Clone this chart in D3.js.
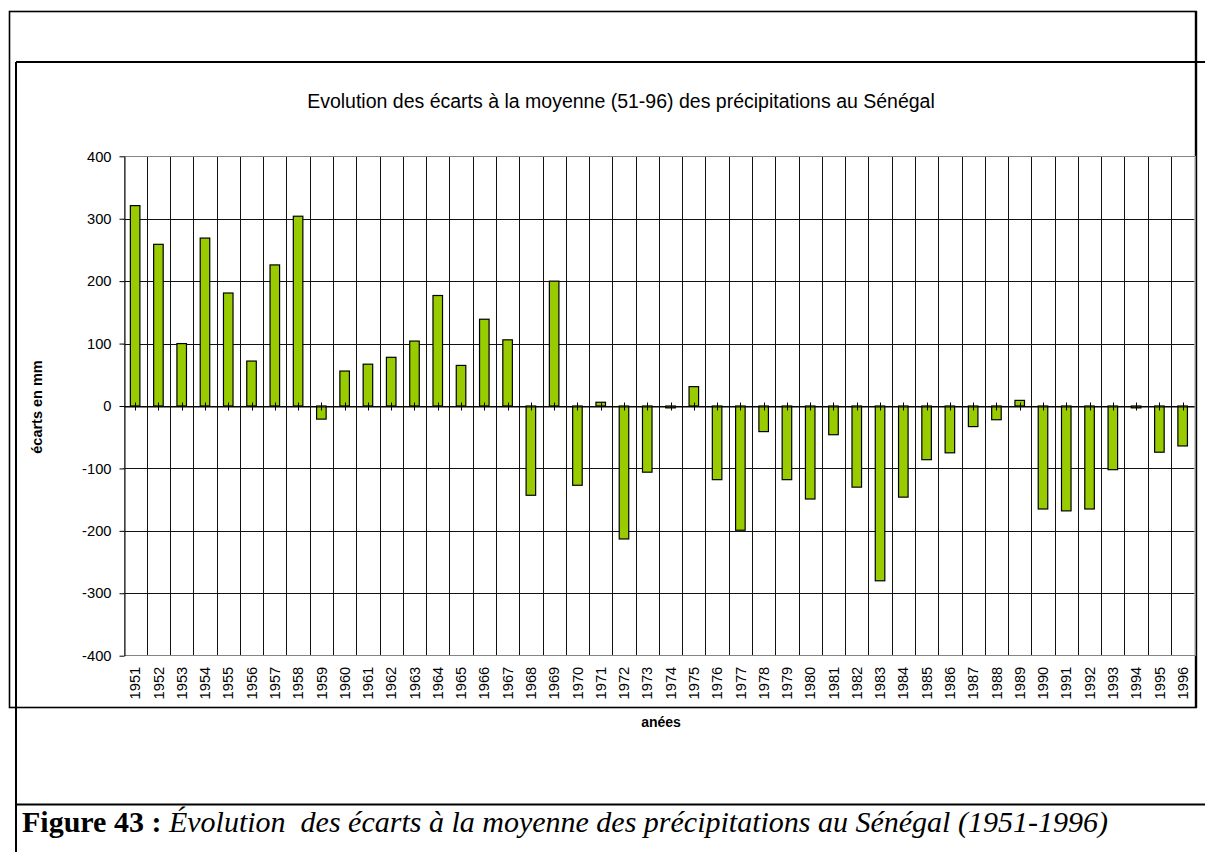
<!DOCTYPE html>
<html>
<head>
<meta charset="utf-8">
<script src="https://cdn.jsdelivr.net/npm/d3@7"></script>
<style>
  body { margin: 0; background: #fff; }
  svg { display: block; }
  text { font-family: "Liberation Sans", Arial, sans-serif; fill: #000; }
  text.caption { font-family: "Liberation Serif", "Times New Roman", serif; }
</style>
</head>
<body>
<svg id="chart" width="1205" height="852"></svg>
<script>
// Years of the series (category axis)
const years = [
  "1951","1952","1953","1954","1955","1956","1957","1958","1959","1960",
  "1961","1962","1963","1964","1965","1966","1967","1968","1969","1970",
  "1971","1972","1973","1974","1975","1976","1977","1978","1979","1980",
  "1981","1982","1983","1984","1985","1986","1987","1988","1989","1990",
  "1991","1992","1993","1994","1995","1996"
];

// Departure from the 1951-1996 mean rainfall, in mm
const ecarts = [
  321, 259, 100, 269, 181, 72, 226, 304, -21, 56,
  67, 78, 104, 177, 65, 139, 106, -143, 200, -127,
  6, -213, -106, -3, 31, -118, -199, -41, -118, -149,
  -46, -130, -280, -146, -86, -75, -33, -22, 9, -165,
  -168, -165, -102, -3, -74, -64
];

// Value axis ticks
const yTicks = [-400, -300, -200, -100, 0, 100, 200, 300, 400];

const titleText = "Evolution des écarts à la moyenne (51-96) des précipitations au Sénégal";
const yTitle = "écarts en mm";
const xTitle = "anées";
const captionBold = "Figure 43 : ";
const captionItalic = "Évolution  des écarts à la moyenne des précipitations au Sénégal (1951-1996)";

const svg = d3.select("#chart");

// Plot area
const plot = { left: 123.5, right: 1194.3, top: 156.3, bottom: 655.7 };

const x = d3.scaleBand().domain(years).range([plot.left, plot.right]).paddingInner(0).paddingOuter(0);
const y = d3.scaleLinear().domain([-400, 400]).range([plot.bottom, plot.top]);

const crisp = v => Math.round(v) + 0.5;
const barW = x.bandwidth() * 0.41;

// Chart frame and page rules
svg.append("rect")
  .attr("x", 9.5).attr("y", 11.5)
  .attr("width", 1186.5).attr("height", 696)
  .attr("fill", "none").attr("stroke", "#000").attr("stroke-width", 1.6);

const rules = svg.append("g").attr("stroke", "#000").attr("stroke-width", 2);
rules.append("line").attr("x1", 16).attr("x2", 1205).attr("y1", 62).attr("y2", 62);
rules.append("line").attr("x1", 16).attr("x2", 16).attr("y1", 62).attr("y2", 852);
rules.append("line").attr("x1", 16).attr("x2", 1205).attr("y1", 804.5).attr("y2", 804.5);
rules.append("line").attr("x1", 1196).attr("x2", 1196).attr("y1", 11).attr("y2", 708).attr("stroke-width", 2.4);

// Horizontal gridlines
svg.append("g").selectAll("line")
  .data(yTicks.filter(v => v !== 400 && v !== -400))
  .join("line")
  .attr("x1", plot.left).attr("x2", plot.right)
  .attr("y1", d => crisp(y(d))).attr("y2", d => crisp(y(d)))
  .attr("stroke", "#111").attr("stroke-width", 1);

// Vertical gridlines on category boundaries
svg.append("g").selectAll("line")
  .data(years.slice(1))
  .join("line")
  .attr("x1", d => crisp(x(d))).attr("x2", d => crisp(x(d)))
  .attr("y1", plot.top).attr("y2", plot.bottom)
  .attr("stroke", "#111").attr("stroke-width", 1);

// Plot-area border
svg.append("rect")
  .attr("x", crisp(plot.left)).attr("y", crisp(plot.top))
  .attr("width", Math.round(plot.right - plot.left)).attr("height", Math.round(plot.bottom - plot.top))
  .attr("fill", "none").attr("stroke", "#858585").attr("stroke-width", 1);

// Bars
svg.append("g").selectAll("rect")
  .data(years.map((yr, i) => ({ yr, v: ecarts[i] })))
  .join("rect")
  .attr("x", d => x(d.yr) + (x.bandwidth() - barW) / 2)
  .attr("width", barW)
  .attr("y", d => y(Math.max(0, d.v)))
  .attr("height", d => Math.abs(y(d.v) - y(0)))
  .attr("fill", "#99cc00")
  .attr("stroke", "#000").attr("stroke-width", 1.2);

// Value axis (plain hyphen for negative numbers)
const yAxis = svg.append("g")
  .attr("transform", `translate(${crisp(plot.left)},0)`)
  .call(d3.axisLeft(y).tickValues(yTicks).tickFormat(d => String(d))
    .tickSize(5).tickPadding(8).tickSizeOuter(0));
yAxis.select(".domain").attr("stroke", "#000");
yAxis.selectAll(".tick line").attr("stroke", "#000");
yAxis.selectAll(".tick text")
  .attr("font-family", "'Liberation Sans', Arial, sans-serif")
  .attr("font-size", 14.7).attr("fill", "#000");

// Category axis on the zero line, with cross tick marks at category centres
const y0 = crisp(y(0));
const xAxis = svg.append("g")
  .attr("transform", `translate(0,${y0})`)
  .call(d3.axisBottom(x).tickSize(0).tickFormat(""));
xAxis.select(".domain").attr("stroke", "#000");
xAxis.selectAll(".tick").remove();
svg.append("g").selectAll("line")
  .data(years)
  .join("line")
  .attr("x1", d => crisp(x(d) + x.bandwidth() / 2)).attr("x2", d => crisp(x(d) + x.bandwidth() / 2))
  .attr("y1", y0 - 4).attr("y2", y0 + 4)
  .attr("stroke", "#000").attr("stroke-width", 1);

// Year labels below the plot, rotated
svg.append("g").selectAll("text")
  .data(years)
  .join("text")
  .attr("transform", d => `translate(${x(d) + x.bandwidth() / 2},${plot.bottom + 11}) rotate(-90)`)
  .attr("text-anchor", "end")
  .attr("dy", "0.35em")
  .attr("font-size", 14.7)
  .text(d => d);

// Titles
svg.append("text")
  .attr("x", 621).attr("y", 108)
  .attr("text-anchor", "middle")
  .attr("font-size", 19.5)
  .text(titleText);

svg.append("text")
  .attr("transform", "translate(42,407) rotate(-90)")
  .attr("text-anchor", "middle")
  .attr("font-size", 14.5)
  .attr("font-weight", "bold")
  .text(yTitle);

svg.append("text")
  .attr("x", 661).attr("y", 727)
  .attr("text-anchor", "middle")
  .attr("font-size", 14)
  .attr("font-weight", "bold")
  .text(xTitle);

// Figure caption
const cap = svg.append("text")
  .attr("class", "caption")
  .attr("x", 22).attr("y", 832)
  .attr("font-size", 30)
  .style("white-space", "pre");
cap.append("tspan").attr("font-weight", "bold").text(captionBold);
cap.append("tspan").attr("font-style", "italic").text(captionItalic);
</script>
</body>
</html>
